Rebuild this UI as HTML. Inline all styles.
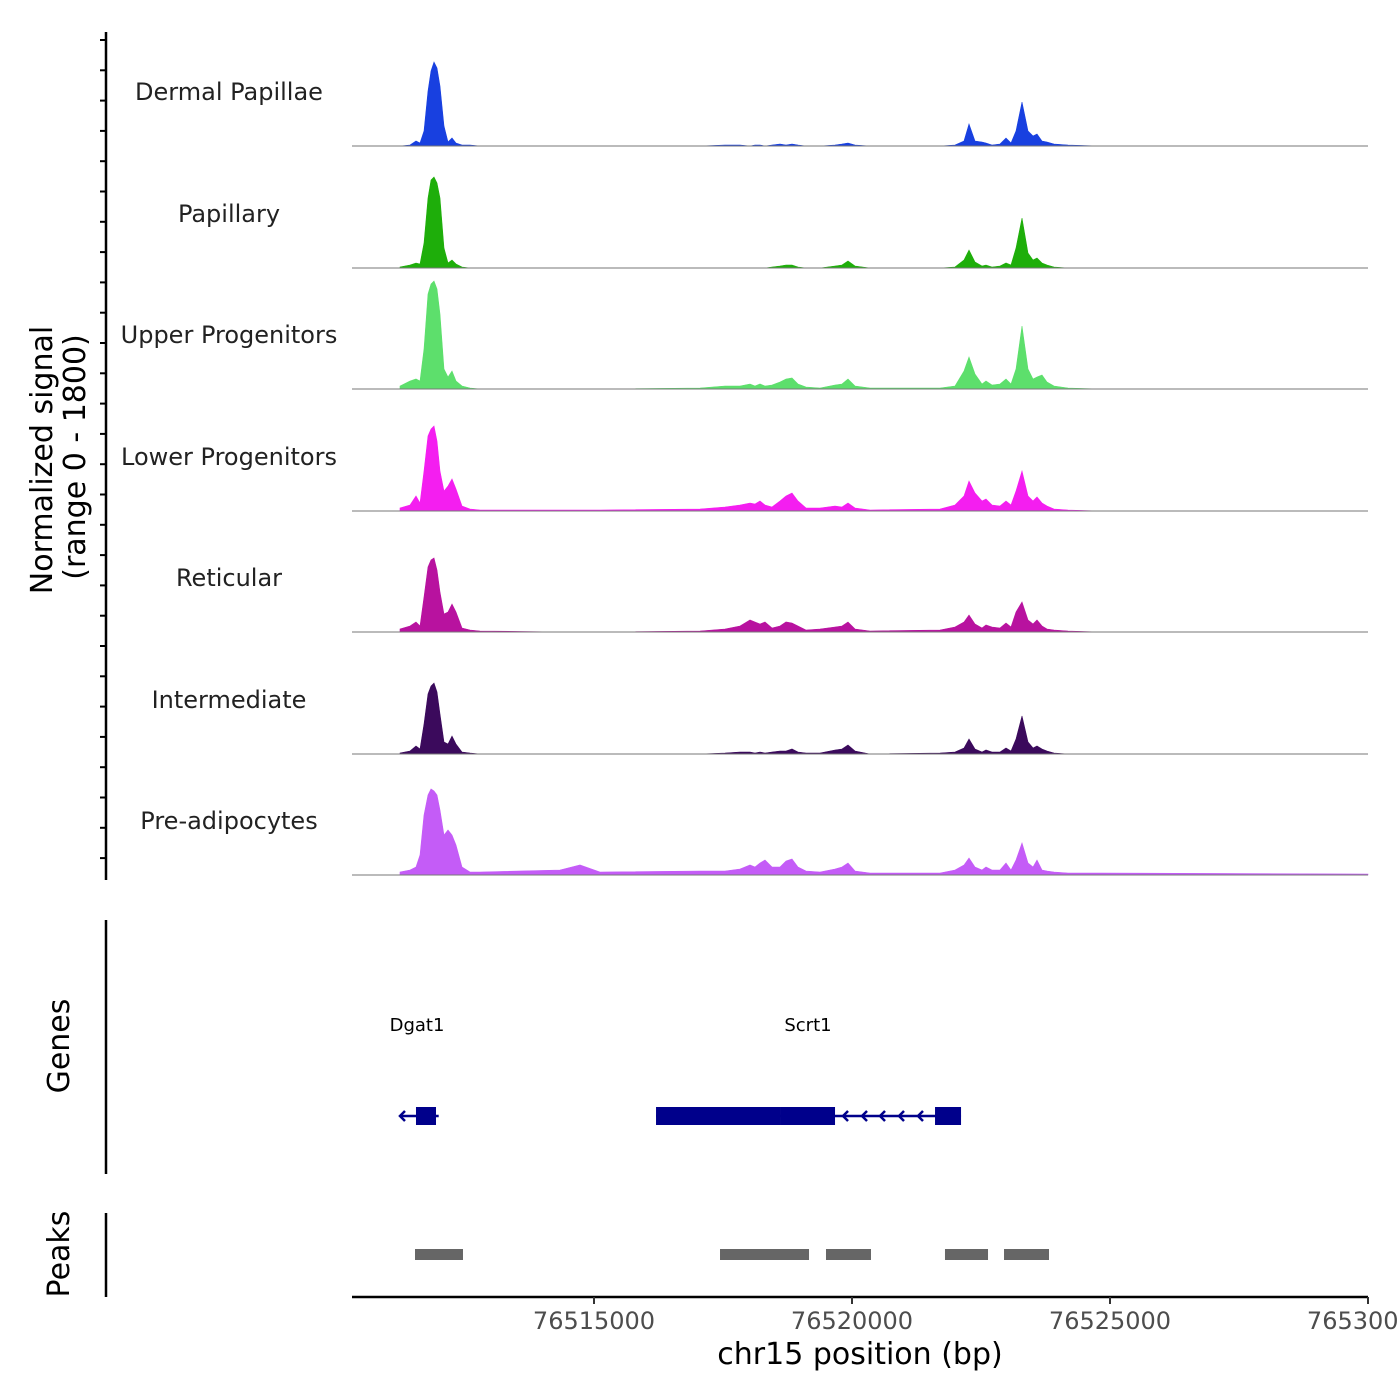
<!DOCTYPE html>
<html><head><meta charset="utf-8"><style>
html,body{margin:0;padding:0;background:#fff;}
svg{display:block;font-family:"DejaVu Sans","Liberation Sans",sans-serif;}
</style></head><body>
<svg id="chart" width="1400" height="1400" viewBox="0 0 1400 1400" xmlns="http://www.w3.org/2000/svg">
<g id="tracks"></g>
<g id="axes"></g>
<g id="genes"></g>
<g id="peaks"></g>
</svg>
<script>
// ---- data ----
const positions = [76511240,76511434,76511550,76511628,76511705,76511783,76511841,76511899,76511957,76512016,76512093,76512171,76512248,76512326,76512442,76512597,76512791,76514341,76514729,76515116,76517054,76517539,76517829,76518023,76518120,76518217,76518314,76518450,76518605,76518721,76518837,76518953,76519109,76519380,76519671,76519806,76519922,76520058,76520349,76521705,76521996,76522171,76522267,76522384,76522519,76522597,76522713,76522868,76522984,76523081,76523178,76523295,76523411,76523508,76523585,76523682,76523779,76523915,76524186,76524806,76530000];
const trackNames = ["Dermal Papillae","Papillary","Upper Progenitors","Lower Progenitors","Reticular","Intermediate","Pre-adipocytes"];
const trackColors = ["#1840e0","#1eae0a","#5ddf6c","#f41ef0","#b8129f","#3b0a5c","#c45cf7"];
const dermal = [0,1,5,3,15,55,75,84,78,60,20,4,8,3,1,1,0,0,0,0,0,1,1,0,1,1,0,1,2,1,2,1,0,0,1,2,3,1,0,0,1,5,22,5,4,3,1,2,8,3,15,44,15,10,12,5,4,2,1,0,0];
const papillary = [1,3,5,4,25,70,88,91,85,70,20,5,8,4,1,0,0,0,0,0,0,0,0,0,0,0,0,1,2,3,3,1,0,0,2,3,7,2,0,0,1,8,18,6,2,3,1,2,5,3,20,50,15,8,10,5,3,1,0,0,0];
const upper = [3,8,10,8,40,95,105,108,100,75,20,12,18,8,3,1,0,0,0,0,1,3,3,5,3,5,3,4,7,10,11,5,2,1,4,5,10,3,1,1,3,18,32,15,5,8,4,5,10,5,20,63,20,10,12,14,7,3,1,0,0];
const lower = [3,6,15,8,40,75,82,85,70,40,20,25,32,22,5,2,1,1,1,1,2,4,6,8,7,10,6,4,10,15,18,10,3,3,5,4,8,3,1,2,6,15,30,18,10,12,6,5,10,6,20,40,15,10,14,8,5,2,1,0,0];
const reticular = [3,6,10,6,35,65,72,74,62,40,18,20,28,20,4,2,1,0,0,0,1,3,6,12,10,8,10,4,6,10,9,6,2,3,5,6,10,3,1,2,5,10,17,8,4,7,5,4,9,5,20,30,12,8,12,6,3,2,1,0,0];
const intermediate = [1,3,8,5,30,60,68,71,62,40,12,10,18,10,2,1,0,0,0,0,0,1,2,2,1,2,1,2,3,3,5,2,1,1,4,5,9,3,0,1,2,6,15,5,2,4,2,2,6,3,15,38,12,6,8,5,3,1,0,0,0];
const preadipo = [3,5,8,20,60,80,86,84,80,65,40,45,40,30,8,3,3,5,10,3,4,4,6,10,8,12,15,8,8,14,16,8,4,3,6,8,12,4,2,2,5,10,17,8,5,8,5,5,12,5,15,32,12,8,15,5,4,3,2,2,1];
const trackValues = [dermal,papillary,upper,lower,reticular,intermediate,preadipo];
const yMaxUnits = 121; // signal scale (1800 / 15 per unit)
const xTickValues = [76515000,76520000,76525000,76530000];
const xTickLabels = ["76515000","76520000","76525000","76530000"];
const genes = [{name:"Dgat1",start:76511240,end:76511990,labelPos:76511570,exons:[[76511550,76511938]]},
               {name:"Scrt1",start:76516202,end:76522113,labelPos:76519147,exons:[[76516202,76518605],[76518605,76519671],[76521609,76522113]]}];
const geneArrowPos = [76511240,76519826,76520194,76520543,76520911,76521279];
const peakStarts = [76511531,76517442,76518430,76519496,76521802,76522946];
const peakEnds   = [76512461,76518430,76519167,76520368,76522636,76523818];

// ---- scales ----
const X0=352, X1=1368, D0=76510310, D1=76530000;
const xs = v => X0 + (v-D0)/(D1-D0)*(X1-X0);
const baselines = [146,268,389,511,632,754,875];
const trackH = 121;
const ys = (i,v) => baselines[i] - v/yMaxUnits*trackH;
const NS="http://www.w3.org/2000/svg";
function mk(tag, attrs, parent){const e=document.createElementNS(NS,tag);for(const k in attrs)e.setAttribute(k,attrs[k]);parent.appendChild(e);return e;}

const tracks=document.getElementById('tracks');
trackNames.forEach((name,i)=>{
  const g=mk('g',{},tracks);
  
  
  const vals=trackValues[i];
  let d='M'+xs(positions[0])+','+baselines[i];
  positions.forEach((p,j)=>{d+=' L'+xs(p).toFixed(1)+','+ys(i,vals[j]||0).toFixed(1);});
  d+=' L'+xs(positions[positions.length-1])+','+baselines[i]+' Z';
  const a=mk('path',{d:d,fill:trackColors[i],stroke:trackColors[i],'stroke-width':0.6},g);
  
  
  const bl=mk('line',{x1:X0,x2:X1,y1:baselines[i],y2:baselines[i],stroke:'#777','stroke-width':1},g);
  
  
  const t=mk('text',{x:229,y:baselines[i]-46,'text-anchor':'middle','font-size':24,fill:'#222'},g);
  t.textContent=name;
  
  
});

const axes=document.getElementById('axes');
function line(p,x1,y1,x2,y2,w,c){return mk('line',{x1,y1,x2,y2,stroke:c||'#000','stroke-width':w||2},p);}
let l=line(axes,106,32,106,880,2.5);


for(let k=0;k<28;k++){const y=40+k*30.3;line(axes,100,y,106,y,2);}
l=line(axes,106,920,106,1174,2.5);


l=line(axes,106,1213,106,1297,2.5);


l=line(axes,352,1297,1368,1297,2.5);


xTickValues.forEach((v,i)=>{
  const x=xs(v); line(axes,x,1297,x,1304,2,'#333');
  const t=mk('text',{x:x,y:1329,'text-anchor':'middle','font-size':24,fill:'#4d4d4d'},axes);
  t.textContent=xTickLabels[i];
  
  
});
let t=mk('text',{x:860,y:1364,'text-anchor':'middle','font-size':30,fill:'#000'},axes);
t.textContent='chr15 position (bp)';


t=mk('text',{transform:'translate(52,460) rotate(-90)','text-anchor':'middle','font-size':30,fill:'#000'},axes);
t.textContent='Normalized signal';


t=mk('text',{transform:'translate(85,457) rotate(-90)','text-anchor':'middle','font-size':30,fill:'#000'},axes);
t.textContent='(range 0 - 1800)';


t=mk('text',{transform:'translate(69,1046) rotate(-90)','text-anchor':'middle','font-size':30,fill:'#000'},axes);
t.textContent='Genes';


t=mk('text',{transform:'translate(69,1254) rotate(-90)','text-anchor':'middle','font-size':30,fill:'#000'},axes);
t.textContent='Peaks';



const gg=document.getElementById('genes');
const GY=1116, GC='#00008b';
genes.forEach(g=>{
  const grp=mk('g',{},gg);
  
  
  line(grp,xs(g.start),GY,xs(g.end),GY,2.5,GC);
  g.exons.forEach(e=>{
    const r=mk('rect',{x:xs(e[0]),y:GY-9,width:xs(e[1])-xs(e[0]),height:18,fill:GC},grp);
    
    
  });
  const lb=mk('text',{x:xs(g.labelPos),y:1031,'text-anchor':'middle','font-size':18,fill:'#000'},grp);
  lb.textContent=g.name;
  
  
});
geneArrowPos.forEach(p=>{
  const x=xs(p);
  const a=mk('path',{d:`M${x+5},${GY-5} L${x},${GY} L${x+5},${GY+5}`,fill:'none',stroke:GC,'stroke-width':2.5},gg);
  
  
});

const pg=document.getElementById('peaks');
peakStarts.forEach((s,i)=>{
  const r=mk('rect',{x:xs(s),y:1249,width:xs(peakEnds[i])-xs(s),height:11,fill:'#666'},pg);
  
  
});
</script>
</body></html>
